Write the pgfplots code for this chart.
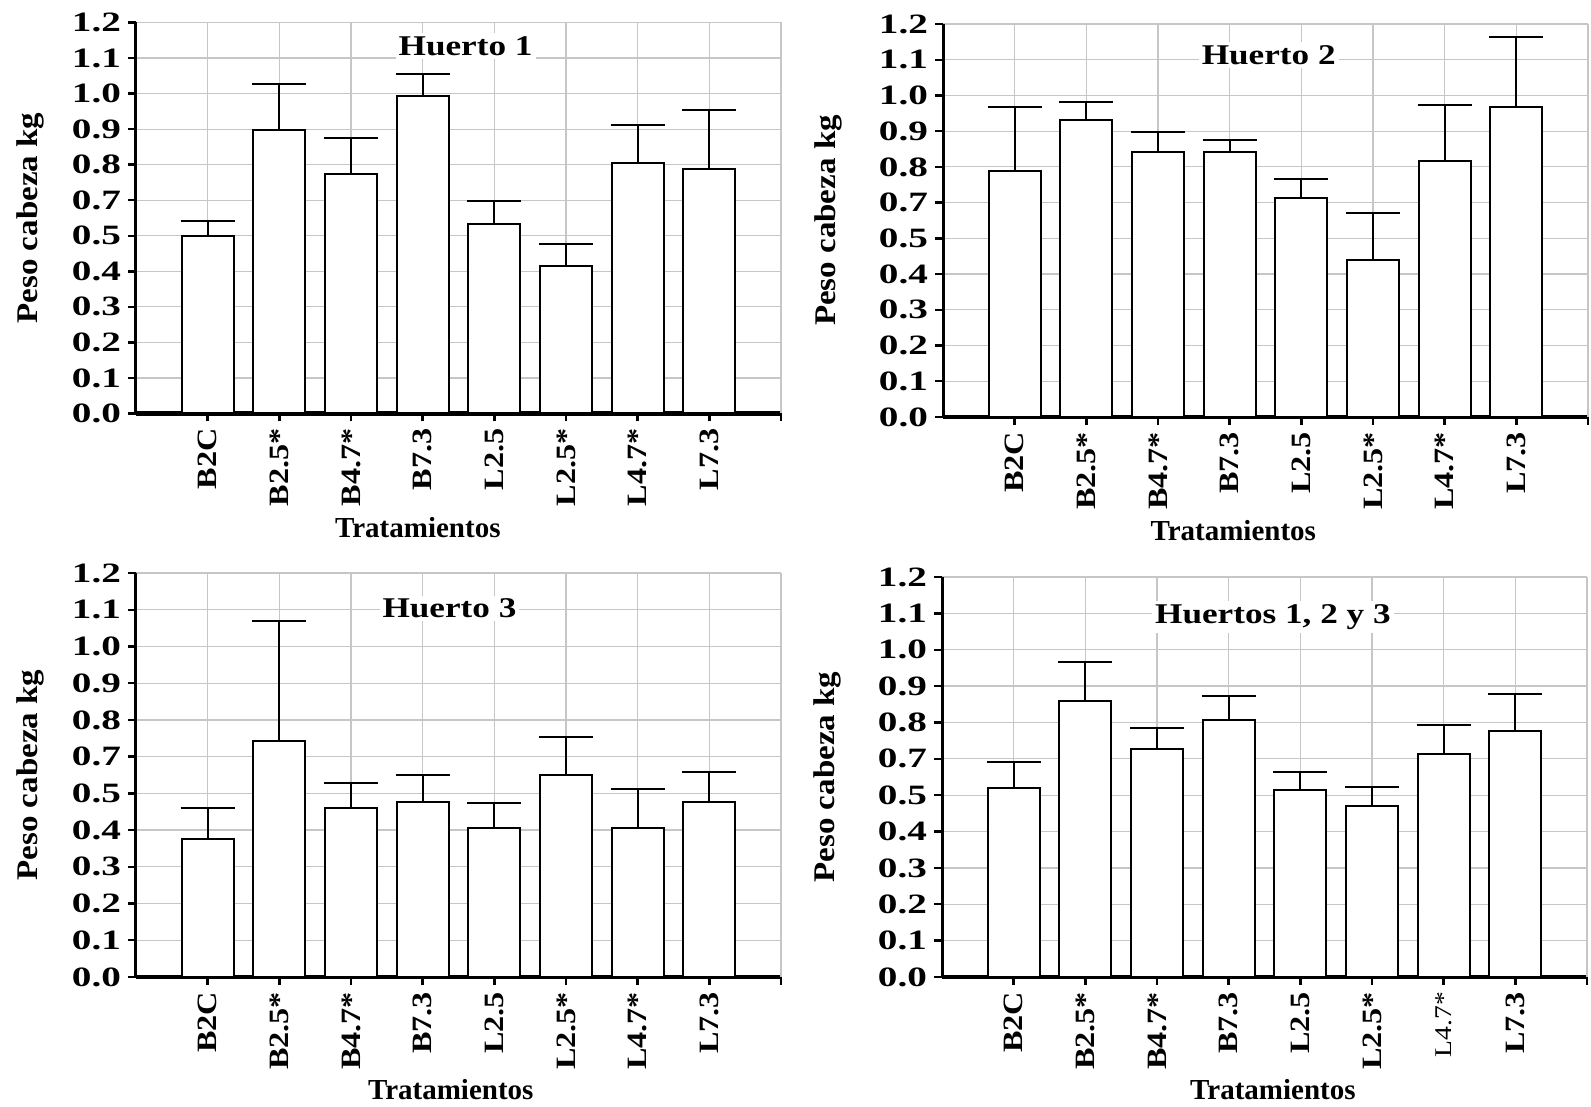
\documentclass[border=0pt]{standalone}
\usepackage{fontspec}
\setmainfont{Liberation Serif}
\newfontfamily\tickY[FakeStretch=1.4]{Liberation Serif}
\newfontfamily\tickX[FakeStretch=1.15]{Liberation Serif}
\newfontfamily\tit[FakeStretch=1.23]{Liberation Serif}
\newfontfamily\ylab[FakeStretch=1.1]{Liberation Serif}
\usepackage{pgfplots}
\pgfplotsset{compat=1.18}

% one panel: bars at 1..8, y in grid steps (the figure skips the 0.6 label)
\pgfplotsset{huerto/.style={
    scale only axis,
    width=322.5pt,
    ybar, bar width=26pt,
    xmin=0, xmax=9, ymin=0, ymax=1.1,
    axis lines*=left,
    axis line style={-, black, line width=1.5pt},
    x axis line style={line width=2.2pt},
    xtick={1,...,8},
    xticklabels={B2C,B2.5*,B4.7*,B7.3,L2.5,L2.5*,L4.7*,L7.3},
    extra x ticks={9}, extra x tick labels={},
    extra x tick style={grid=major},
    ytick={0,0.1,0.2,0.3,0.4,0.5,0.6,0.7,0.8,0.9,1.0,1.1},
    yticklabels={0.0,0.1,0.2,0.3,0.4,0.5,0.7,0.8,0.9,1.0,1.1,1.2},
    xmajorgrids, ymajorgrids,
    major grid style={gray!45, line width=0.6pt},
    tick align=outside,
    major tick length=4pt,
    tick style={black, line width=1.2pt},
    xticklabel style={rotate=90, anchor=east, font=\tickX\bfseries\fontsize{14}{15}\selectfont},
    yticklabel style={font=\tickY\bfseries\fontsize{14}{15}\selectfont},
    xlabel={Tratamientos},
    ylabel={Peso cabeza kg},
    xlabel style={font=\bfseries\fontsize{14.5}{16}\selectfont, anchor=center},
    ylabel style={font=\ylab\bfseries\fontsize{15}{16}\selectfont, anchor=center},
  },
  barras/.style={fill=white, draw=black, line width=1pt,
    error bars/.cd, y dir=plus, y explicit,
    error bar style={line width=1pt, black},
    error mark options={rotate=90, mark size=13.5pt, line width=1pt, black}},
}
\tikzset{titulo/.style={font=\tit\bfseries\fontsize{14.3}{16}\selectfont, fill=white, inner sep=1.5pt}}

\begin{document}
\begin{tikzpicture}

% Huerto 1
\begin{axis}[huerto, height=195.5pt, at={(68pt,346.75pt)}, anchor=south west,
    xlabel style={at={(axis description cs:0.437,-0.293)}},
    ylabel style={at={(axis description cs:-0.164,0.5)}}]
\addplot[barras] coordinates {
    (1,0.500) +- (0,0.042)
    (2,0.797) +- (0,0.130)
    (3,0.674) +- (0,0.101)
    (4,0.893) +- (0,0.061)
    (5,0.532) +- (0,0.065)
    (6,0.414) +- (0,0.063)
    (7,0.705) +- (0,0.108)
    (8,0.689) +- (0,0.166)};
\node[titulo] at (axis description cs:0.511,0.94) {Huerto 1};
\end{axis}

% Huerto 2
\begin{axis}[huerto, height=196.5pt, at={(471.5pt,345pt)}, anchor=south west,
    xlabel style={at={(axis description cs:0.45,-0.29)}},
    ylabel style={at={(axis description cs:-0.178,0.5)}}]
\addplot[barras] coordinates {
    (1,0.689) +- (0,0.178)
    (2,0.830) +- (0,0.053)
    (3,0.743) +- (0,0.055)
    (4,0.743) +- (0,0.033)
    (5,0.613) +- (0,0.054)
    (6,0.440) +- (0,0.130)
    (7,0.716) +- (0,0.158)
    (8,0.867) +- (0,0.197)};
\node[titulo] at (axis description cs:0.505,0.921) {Huerto 2};
\end{axis}

% Huerto 3
\begin{axis}[huerto, height=202pt, at={(68pt,65pt)}, anchor=south west,
    xlabel style={at={(axis description cs:0.488,-0.279)}},
    ylabel style={at={(axis description cs:-0.164,0.5)}}]
\addplot[barras] coordinates {
    (1,0.376) +- (0,0.084)
    (2,0.643) +- (0,0.325)
    (3,0.460) +- (0,0.067)
    (4,0.476) +- (0,0.074)
    (5,0.407) +- (0,0.068)
    (6,0.550) +- (0,0.104)
    (7,0.407) +- (0,0.104)
    (8,0.476) +- (0,0.083)};
\node[titulo] at (axis description cs:0.486,0.913) {Huerto 3};
\end{axis}

% Huertos 1, 2 y 3
\begin{axis}[huerto, height=200pt, at={(471pt,65pt)}, anchor=south west,
    xticklabels={B2C,B2.5*,B4.7*,B7.3,L2.5,L2.5*,{\mdseries\fontsize{12}{13}\selectfont L4.7*},L7.3},
    xlabel style={at={(axis description cs:0.513,-0.282)}},
    ylabel style={at={(axis description cs:-0.177,0.5)}}]
\addplot[barras] coordinates {
    (1,0.520) +- (0,0.070)
    (2,0.759) +- (0,0.108)
    (3,0.627) +- (0,0.059)
    (4,0.706) +- (0,0.066)
    (5,0.515) +- (0,0.049)
    (6,0.469) +- (0,0.053)
    (7,0.613) +- (0,0.079)
    (8,0.676) +- (0,0.102)};
\node[titulo] at (axis description cs:0.513,0.90) {Huertos 1, 2 y 3};
\end{axis}

\pgfresetboundingbox
\useasboundingbox (0,0) rectangle (795.5pt,553.5pt);
\end{tikzpicture}
\end{document}
